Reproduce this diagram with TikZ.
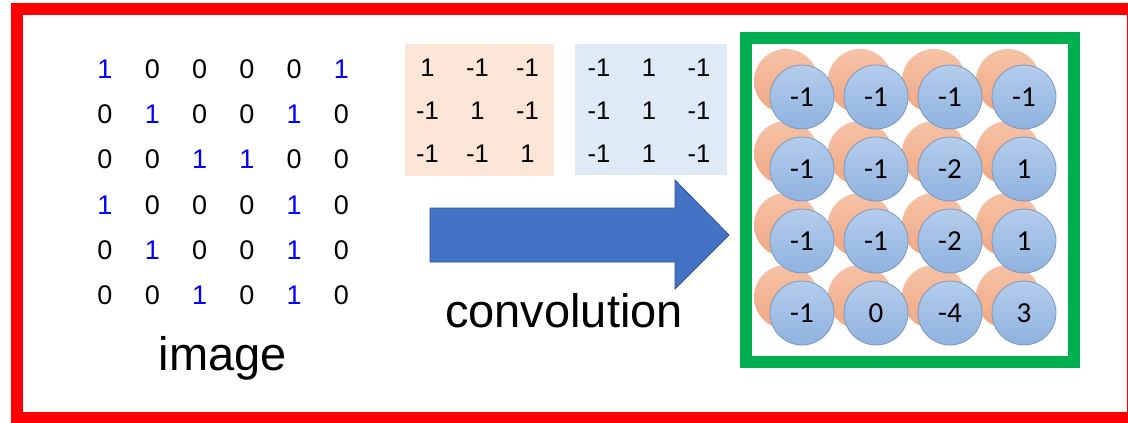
\documentclass[tikz,border=0pt]{standalone}
\usepackage{fontspec}
\setmainfont{Liberation Sans}
\newfontfamily\cellfont{Carlito}
\usepackage{xcolor}
\usetikzlibrary{arrows.meta}

\definecolor{frame red}{HTML}{FF0000}
\definecolor{frame green}{HTML}{00B050}
\definecolor{pix blue}{HTML}{0000FF}
\definecolor{ker orange}{HTML}{FBE5D6}
\definecolor{ker blue}{HTML}{DEEBF7}
\definecolor{arrow fill}{HTML}{4472C4}
\definecolor{arrow line}{HTML}{2F528F}
\definecolor{dot orange top}{HTML}{F6C2A6}
\definecolor{dot orange bot}{HTML}{F0A884}
\definecolor{dot blue top}{HTML}{B4CDEC}
\definecolor{dot blue bot}{HTML}{8FB2DF}
\definecolor{dot blue line}{HTML}{7C97BE}

\begin{document}
\begin{tikzpicture}[x=1pt,y=-1pt]
     \tikzstyle{pix0}=[inner sep=0pt,font=\fontsize{27}{27}\selectfont]
     \tikzstyle{pix1}=[pix0,text=pix blue]
     \tikzstyle{kentry}=[inner sep=0pt,font=\fontsize{25.5}{25.5}\selectfont]
     \tikzstyle{caption}=[inner sep=0pt,anchor=base,font=\fontsize{47}{47}\selectfont]
     \tikzstyle{odot}=[circle,inner sep=0pt,minimum size=64pt,top color=dot orange top,bottom color=dot orange bot]
     \tikzstyle{bdot}=[circle,inner sep=0pt,minimum size=64pt,draw=dot blue line,line width=0.8pt,top color=dot blue top,bottom color=dot blue bot,font=\cellfont\fontsize{29}{29}\selectfont]

     \useasboundingbox (0,0) rectangle (1128,423);
     \clip (0,0) rectangle (1128,423);

     % outer frame, right side runs off the page
     \draw[frame red,line width=12pt] (17,8.5) rectangle (1133,417.5);

     % input image
     \foreach \row [count=\r] in {{1,0,0,0,0,1},{0,1,0,0,1,0},{0,0,1,1,0,0},{1,0,0,0,1,0},{0,1,0,0,1,0},{0,0,1,0,1,0}}
       \foreach \v [count=\c] in \row
         \node[pix\v] (img-\r-\c) at ({105+(\c-1)*47.3},{69.3+(\r-1)*45.2}) {\v};
     \node[caption] (imglabel) at (223,370) {image};

     % the two filters
     \fill[ker orange] (405,44) rectangle (554,176);
     \fill[ker blue] (575,44) rectangle (727,175);
     \foreach \row [count=\r] in {{1,-1,-1},{-1,1,-1},{-1,-1,1}}
       \foreach \v [count=\c] in \row
         \node[kentry] (ka-\r-\c) at ({427.5+(\c-1)*50},{67.5+(\r-1)*43}) {\v};
     \foreach \row [count=\r] in {{-1,1,-1},{-1,1,-1},{-1,1,-1}}
       \foreach \v [count=\c] in \row
         \node[kentry] (kb-\r-\c) at ({599+(\c-1)*50},{67.5+(\r-1)*43}) {\v};

     % big block arrow
     \draw[fill=arrow fill,draw=arrow line,line width=0.8pt,line join=miter]
       (430,208) -- (675,208) -- (675,180) -- (729,235) -- (675,289) -- (675,262) -- (430,262) -- cycle;
     \node[caption] (convlabel) at (564,327) {convolution};

     % feature maps: orange layer below, blue layer on top
     \foreach \r in {1,...,4}
       \foreach \c in {1,...,4}
         \node[odot] (fa-\r-\c) at ({786+(\c-1)*74},{81+(\r-1)*72}) {};
     \foreach \row [count=\r] in {{-1,-1,-1,-1},{-1,-1,-2,1},{-1,-1,-2,1},{-1,0,-4,3}}
       \foreach \v [count=\c] in \row
         \node[bdot] (fb-\r-\c) at ({802+(\c-1)*74},{97+(\r-1)*72}) {\v};

     \draw[frame green,line width=12pt] (746,38) rectangle (1074,361.5);
\end{tikzpicture}
\end{document}
